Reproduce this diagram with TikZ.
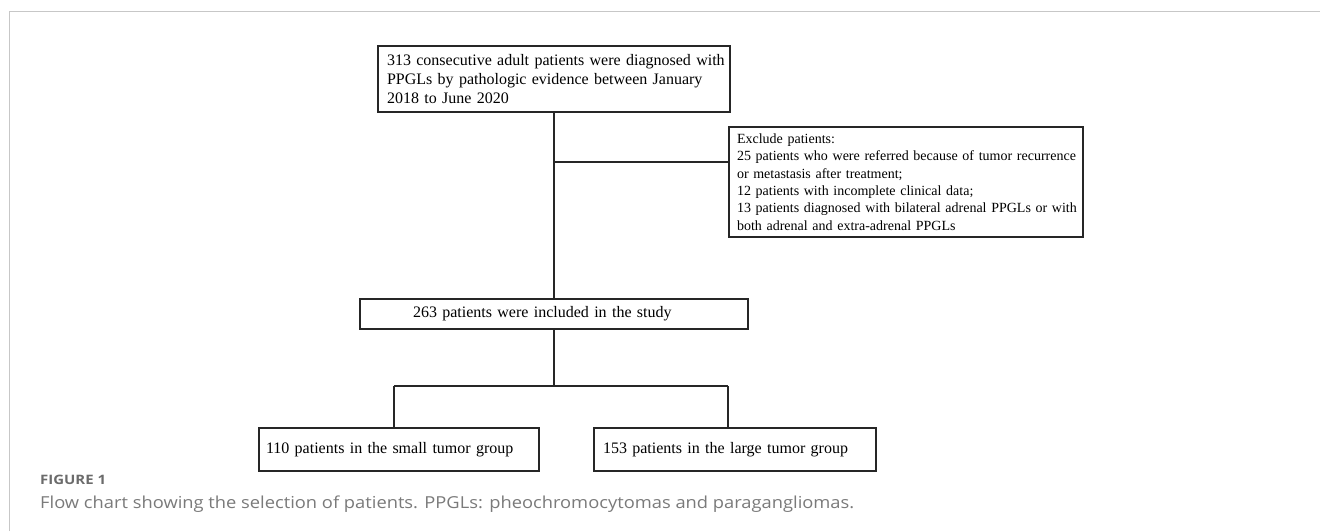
\documentclass[tikz,border=0pt]{standalone}
\usepackage{fontspec}
\usepackage{graphicx}
\setmainfont{Liberation Serif}
\newfontfamily\capfont{Open Sans}
\begin{document}
\begin{tikzpicture}[x=1pt,y=-1pt,
  box/.style={draw=black!85, line width=1.3pt, rectangle, inner ysep=0pt, align=left},
  link/.style={draw=black!85, line width=1.3pt},
  bigtxt/.style={font=\fontsize{16}{19}\selectfont},
  smalltxt/.style={font=\fontsize{14}{17.3}\selectfont},
  frame/.style={draw=black!22, line width=1pt}
]
\useasboundingbox (0,0) rectangle (1320,531);
\fill[white] (0,0) rectangle (1320,531);
\draw[frame] (9,531) -- (9,11) -- (1320,11);

\node[box, bigtxt, minimum width=352pt, minimum height=66pt, inner xsep=9pt, text width=334pt] (top) at (554,79)
  {\mbox{313 consecutive adult patients were diagnosed with}\\\mbox{PPGLs by pathologic evidence between January}\\\mbox{2018 to June 2020}};

\node[box, smalltxt, minimum width=354pt, minimum height=110pt, inner xsep=8pt, text width=338pt] (excl) at (906,182)
  {\mbox{Exclude patients:}\\\mbox{25 patients who were referred because of tumor recurrence}\\\mbox{or metastasis after treatment;}\\\mbox{12 patients with incomplete clinical data;}\\\mbox{13 patients diagnosed with bilateral adrenal PPGLs or with}\\\mbox{both adrenal and extra-adrenal PPGLs}};

\node[box, bigtxt, minimum width=388pt, minimum height=30pt, inner xsep=53pt, text width=282pt] (inc) at (554,314)
  {\mbox{263 patients were included in the study}};

\node[box, bigtxt, minimum width=280pt, minimum height=43pt, inner xsep=7pt, text width=266pt] (small) at (399,449.5)
  {\mbox{110 patients in the small tumor group}};
\node[box, bigtxt, minimum width=282pt, minimum height=43pt, inner xsep=9pt, text width=264pt] (large) at (735,449.5)
  {\mbox{153 patients in the large tumor group}};

\coordinate (j1) at (554,162);
\coordinate (bm) at (554,386);
\coordinate (bl) at (394,386);
\coordinate (br) at (728,386);

\draw[link] (top.south) -- (inc.north);
\draw[link] (j1) -- (j1 -| excl.west);
\draw[link] (inc.south) -- (bm);
\draw[link] (bl) -- (br);
\draw[link] (bl) -- (bl |- small.north);
\draw[link] (br) -- (br |- large.north);

\node[anchor=base west, inner sep=0pt, text=black!58, font=\capfont\bfseries\fontsize{13}{15}\selectfont] (figlab) at (40,484)
  {\scalebox{1.15}[1]{FIGURE 1}};
\node[anchor=base west, inner sep=0pt, text=black!52, font=\capfont\fontsize{16.5}{19}\selectfont] (caption) at (40,508)
  {\scalebox{1.11}[1]{Flow chart showing the selection of patients. PPGLs: pheochromocytomas and paragangliomas.}};
\end{tikzpicture}
\end{document}
